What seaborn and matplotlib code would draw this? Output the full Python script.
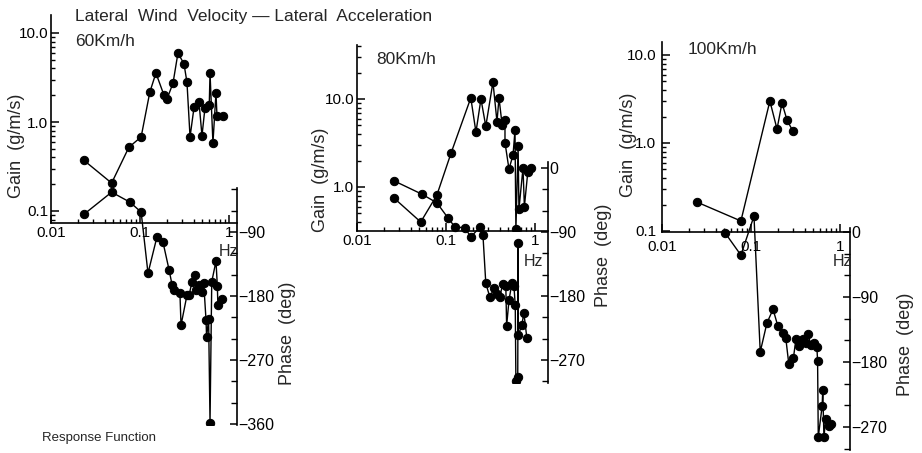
import numpy as np
import pandas as pd
import matplotlib
matplotlib.use("Agg")
import matplotlib.pyplot as plt
import seaborn as sns
from matplotlib.ticker import FixedLocator, FixedFormatter, NullFormatter

sns.set_theme(style="white")
plt.rcParams['font.family'] = ['Liberation Sans', 'DejaVu Sans']

# ---- 60 km/h ----
freq60_gain = [0.0235, 0.048, 0.075, 0.103, 0.129, 0.151, 0.186, 0.201, 0.235, 0.267,
               0.312, 0.337, 0.365, 0.405, 0.46, 0.497, 0.537, 0.60, 0.612, 0.66,
               0.714, 0.733, 0.85]
gain60 = [0.37, 0.206, 0.52, 0.68, 2.17, 3.55, 2.0, 1.81, 2.74, 5.96,
          4.5, 2.8, 0.68, 1.47, 1.68, 0.70, 1.44, 1.55, 3.55, 0.58,
          2.12, 1.17, 1.17]
freq60_phase = [0.0235, 0.048, 0.077, 0.103, 0.123, 0.155, 0.181, 0.212, 0.229, 0.241,
                0.281, 0.289, 0.337, 0.356, 0.384, 0.41, 0.43, 0.46, 0.50, 0.52,
                0.552, 0.56, 0.59, 0.612, 0.64, 0.714, 0.74, 0.75, 0.83]
phase60 = [-65, -34, -48, -62, -148, -97, -104, -143, -164, -172,
           -176, -221, -179, -179, -160, -150, -172, -165, -175, -162,
           -214, -238, -212, -358, -160, -131, -166, -193, -184]

# ---- 80 km/h ----
freq80_gain = [0.026, 0.052, 0.079, 0.114, 0.19, 0.217, 0.247, 0.28, 0.337, 0.374,
               0.394, 0.427, 0.46, 0.46, 0.51, 0.566, 0.596, 0.61, 0.646, 0.66,
               0.733, 0.76, 0.83, 0.9]
gain80 = [0.75, 0.40, 0.81, 2.43, 10.3, 4.2, 10.0, 4.9, 15.6, 5.5,
          10.3, 5.1, 5.8, 3.2, 1.6, 2.3, 4.4, 0.33, 2.9, 0.56,
          1.64, 0.6, 1.48, 1.64]
freq80_phase = [0.026, 0.054, 0.079, 0.105, 0.126, 0.163, 0.19, 0.241, 0.26, 0.28,
                0.31, 0.35, 0.374, 0.40, 0.437, 0.47, 0.48, 0.51, 0.55, 0.58,
                0.60, 0.61, 0.64, 0.646, 0.65, 0.71, 0.75, 0.81]
phase80 = [-18, -37, -49, -70, -83, -84, -97, -83, -94, -162,
           -181, -169, -177, -181, -163, -166, -222, -186, -162, -166,
           -193, -300, -294, -105, -235, -221, -204, -239]

# ---- 100 km/h ----
freq100_gain = [0.0247, 0.077, 0.163, 0.196, 0.223, 0.254, 0.295]
gain100 = [0.213, 0.13, 3.0, 1.44, 2.85, 1.82, 1.37]
freq100_phase = [0.051, 0.077, 0.108, 0.127, 0.151, 0.177, 0.20, 0.23, 0.246, 0.266,
                 0.30, 0.32, 0.345, 0.38, 0.41, 0.435, 0.47, 0.51, 0.55, 0.56,
                 0.57, 0.63, 0.64, 0.66, 0.69, 0.75, 0.80]
phase100 = [-1, -32, 22, -166, -126, -107, -130, -140, -147, -183,
            -174, -148, -158, -148, -154, -141, -156, -154, -159, -179,
            -284, -241, -219, -284, -259, -269, -266]

speed_labels = ["60Km/h", "80Km/h", "100Km/h"]
x_tick_vals = [0.01, 0.1, 1]
x_tick_text = ["0.01", "0.1", "1"]
gain_tick_vals = [0.1, 1, 10]
gain_tick_text = ["0.1", "1.0", "10.0"]

W, H = 922, 453
fig = plt.figure(figsize=(W / 100, H / 100), dpi=100)
fig.patch.set_facecolor("white")


def rect(l, r, t, b):
    return [l / W, 1 - b / H, (r - l) / W, (b - t) / H]


def minor_log(lo, hi):
    vals = []
    for d in range(-3, 3):
        for m in range(2, 10):
            v = m * 10.0 ** d
            if lo < v < hi:
                vals.append(v)
    return vals


def draw_panel(fq_g, gain, fq_p, phase, lay, label, label_xy):
    x0, xr, gt, xb = lay["x0"], lay["xr"], lay["gt"], lay["xb"]
    xd, g1, gd = lay["xd"], lay["g1"], lay["gd"]
    pref, pval, p90 = lay["pref"], lay["pval"], lay["p90"]
    ptop, pbot = lay["ptop"], lay["pbot"]

    xlim = (0.01, 10 ** (-2 + (xr - x0) / xd))
    glim = (10 ** ((g1 - xb) / gd), 10 ** ((g1 - gt) / gd))

    def pv(p):
        return pval + (pref - p) * 90.0 / p90

    # gain axes
    ax = fig.add_axes(rect(x0, xr, gt, xb))
    ax.set_xscale("log")
    ax.set_yscale("log")
    ax.set_xlim(*xlim)
    ax.set_ylim(*glim)
    ax.patch.set_alpha(0)
    sns.lineplot(x=fq_g, y=gain, ax=ax, sort=False, estimator=None,
                 color="black", lw=1.0, marker="o", markersize=6,
                 markeredgecolor="black", markerfacecolor="black")
    for s in ["top", "right"]:
        ax.spines[s].set_visible(False)
    for s in ["left", "bottom"]:
        ax.spines[s].set_color("black")
        ax.spines[s].set_linewidth(1.2)
    ax.xaxis.set_major_locator(FixedLocator(x_tick_vals))
    ax.xaxis.set_major_formatter(FixedFormatter(x_tick_text))
    ax.xaxis.set_minor_locator(FixedLocator(minor_log(*xlim)))
    ax.xaxis.set_minor_formatter(NullFormatter())
    gv = [v for v in gain_tick_vals if glim[0] * 0.999 <= v <= glim[1]]
    ax.yaxis.set_major_locator(FixedLocator(gv))
    ax.yaxis.set_major_formatter(FixedFormatter(
        [gain_tick_text[gain_tick_vals.index(v)] for v in gv]))
    ax.yaxis.set_minor_locator(FixedLocator(minor_log(*glim)))
    ax.yaxis.set_minor_formatter(NullFormatter())
    ax.tick_params(which="major", direction="in", length=6, width=1.1,
                   color="black", labelsize=11, labelcolor="black", pad=2,
                   left=True, bottom=True)
    ax.tick_params(axis="x", which="major", pad=lay["xpad"])
    ax.tick_params(axis="y", which="major", pad=lay["ypad"])
    ax.tick_params(which="minor", direction="in", length=3, width=1.0,
                   color="black", left=True, bottom=True)
    ax.set_xlabel("")
    ax.set_ylabel("")

    # phase axes, sharing the frequency scale
    axp = fig.add_axes(rect(x0, xr, gt, pbot))
    axp.set_xscale("log")
    axp.set_xlim(*xlim)
    axp.set_ylim(pv(pbot), pv(gt))
    axp.patch.set_alpha(0)
    sns.lineplot(x=fq_p, y=phase, ax=axp, sort=False, estimator=None,
                 color="black", lw=1.0, marker="o", markersize=6,
                 markeredgecolor="black", markerfacecolor="black")
    for s in ["top", "left", "bottom"]:
        axp.spines[s].set_visible(False)
    lo_b, hi_b = pv(pbot), pv(ptop)
    axp.spines["right"].set_bounds(lo_b, hi_b)
    axp.spines["right"].set_color("black")
    axp.spines["right"].set_linewidth(1.2)
    axp.yaxis.tick_right()
    minor = [v for v in range(-360, 31, 30) if lo_b <= v <= hi_b and v % 90]
    major = [v for v in range(-360, 31, 90) if lo_b <= v <= hi_b]
    axp.yaxis.set_major_locator(FixedLocator(major))
    axp.yaxis.set_major_formatter(FixedFormatter(
        ["0" if v == 0 else "\u2212%d" % -v for v in major]))
    axp.yaxis.set_minor_locator(FixedLocator(minor))
    axp.tick_params(axis="y", which="major", direction="in", length=5,
                    width=1.1, color="black", labelsize=11.5,
                    labelcolor="black", pad=1, right=True)
    axp.tick_params(axis="y", which="minor", direction="in", length=4,
                    width=1.0, color="black", right=True)
    axp.set_xticks([])
    axp.set_xticks([], minor=True)
    axp.set_xlabel("")
    axp.set_ylabel("")

    fig.text(label_xy[0] / W, 1 - label_xy[1] / H, label, fontsize=12.5,
             ha="left", va="center")
    fig.text(lay["gain_lab"][0] / W, 1 - lay["gain_lab"][1] / H,
             "Gain  (g/m/s)", rotation=90, fontsize=13,
             ha="center", va="center")
    fig.text(lay["phase_lab"][0] / W, 1 - lay["phase_lab"][1] / H,
             "Phase  (deg)", rotation=90, fontsize=13,
             ha="center", va="center")
    fig.text(lay["hz"][0] / W, 1 - lay["hz"][1] / H, "Hz", fontsize=11.5,
             ha="center", va="center")


layouts = [
    dict(x0=51, xr=237, gt=15, xb=223, xd=89, g1=122, gd=89,
         pref=232, pval=-90, p90=64, ptop=188, pbot=425, xpad=2, ypad=2,
         gain_lab=(17, 146), phase_lab=(287, 333), hz=(228, 252)),
    dict(x0=357, xr=548, gt=45, xb=231, xd=89, g1=187, gd=88,
         pref=232, pval=-90, p90=64, ptop=162, pbot=383, xpad=2, ypad=2,
         gain_lab=(320, 180), phase_lab=(603, 255), hz=(533, 262)),
    dict(x0=662, xr=850, gt=42, xb=232, xd=89, g1=143, gd=88,
         pref=232, pval=0, p90=65, ptop=228, pbot=450, xpad=6, ypad=4,
         gain_lab=(628, 145), phase_lab=(905, 344), hz=(842, 262)),
]

draw_panel(freq60_gain, gain60, freq60_phase, phase60, layouts[0],
           speed_labels[0], (75, 42))
draw_panel(freq80_gain, gain80, freq80_phase, phase80, layouts[1],
           speed_labels[1], (376, 60))
draw_panel(freq100_gain, gain100, freq100_phase, phase100, layouts[2],
           speed_labels[2], (688, 50))

fig.text(75 / W, 1 - 17 / H,
         "Lateral  Wind  Velocity \u2014 Lateral  Acceleration",
         fontsize=12.5, ha="left", va="center")
fig.text(42 / W, 1 - 438 / H, "Response Function", fontsize=9.5,
         ha="left", va="center")

fig.savefig("out.png", dpi=100, facecolor="white")
